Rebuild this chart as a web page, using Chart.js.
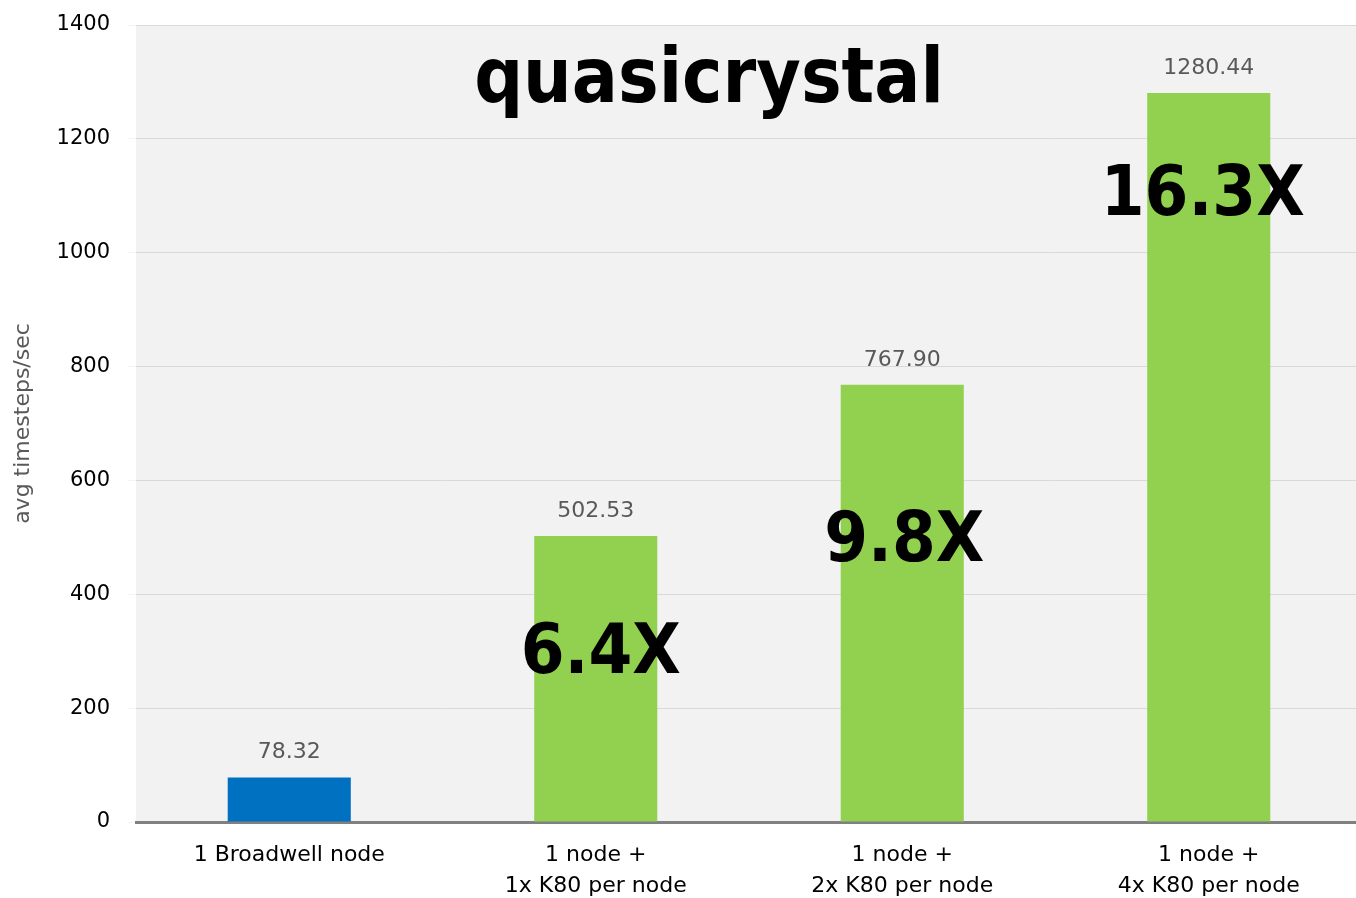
<!DOCTYPE html>
<html>
<head>
<meta charset="utf-8">
<script src="https://cdn.jsdelivr.net/npm/chart.js@4"></script>
<style>
  html, body { margin: 0; padding: 0; background: #fff; overflow: hidden; }
  #wrap { width: 1362px; height: 898px; }
</style>
</head>
<body>
<div id="wrap"><canvas id="perfChart"></canvas></div>
<script>
// Chart data
const categories = [
	'1 Broadwell node',
	['1 node +', '1x K80 per node'],
	['1 node +', '2x K80 per node'],
	['1 node +', '4x K80 per node'],
];
const timesteps = [78.32, 502.53, 767.9, 1280.44];
const barColors = ['#0070c0', '#92d050', '#92d050', '#92d050'];
const speedups = ['', '6.4X', '9.8X', '16.3X'];
const yTicks = [0, 200, 400, 600, 800, 1000, 1200, 1400];

const FONT = '"DejaVu Sans", sans-serif';
const BIG_FONT = '"DejaVu Sans Condensed", "DejaVu Sans", sans-serif';

// Fill the plot area grey, then draw value labels, speedups and title
const decorations = {
	id: 'decorations',
	beforeDraw(chart) {
		const { ctx, chartArea: a } = chart;
		ctx.save();
		ctx.fillStyle = '#f2f2f2';
		ctx.fillRect(a.left, a.top, a.right - a.left, a.bottom - a.top);
		ctx.restore();
	},
	afterDatasetsDraw(chart) {
		const { ctx, scales } = chart;
		const bars = chart.getDatasetMeta(0).data;
		ctx.save();
		ctx.textAlign = 'center';

		// value labels above each bar
		ctx.fillStyle = '#595959';
		ctx.font = '22px ' + FONT;
		ctx.textBaseline = 'bottom';
		bars.forEach((bar, i) => {
			ctx.fillText(timesteps[i].toFixed(2), bar.x, bar.y - 14);
		});

		// speedup labels (drawn a bit off the bar centre like the original slide)
		ctx.fillStyle = '#000';
		ctx.font = 'bold 70px ' + BIG_FONT;
		ctx.textBaseline = 'middle';
		const speedupAt = [0, 293, 491, 1099];
		const nudge = [0, 5, 2, -6];
		bars.forEach((bar, i) => {
			if (!speedups[i]) return;
			ctx.fillText(speedups[i], bar.x + nudge[i], scales.y.getPixelForValue(speedupAt[i]));
		});

		// title inside the plot
		ctx.font = 'bold 76px ' + BIG_FONT;
		ctx.fillText('quasicrystal', 709, scales.y.getPixelForValue(1299));
		ctx.restore();
	},
};

const ctx = document.getElementById('perfChart').getContext('2d');
const chart = new Chart(ctx, {
	type: 'bar',
	data: {
		labels: categories,
		datasets: [{
			data: timesteps,
			backgroundColor: barColors,
			barPercentage: 0.8,
			categoryPercentage: 0.502,
		}],
	},
	options: {
		responsive: true,
		maintainAspectRatio: false,
		animation: false,
		layout: { padding: { top: 25, right: 0, bottom: 0, left: 0 } },
		plugins: {
			legend: { display: false },
			tooltip: { enabled: false },
		},
		scales: {
			x: {
				grid: { display: false },
				border: { display: true, color: '#808080', width: 3 },
				ticks: {
					color: '#000',
					font: { family: FONT, size: 22, lineHeight: 1.4 },
					padding: 10,
					maxRotation: 0,
				},
				afterFit(scale) { scale.height = 76; },
			},
			y: {
				min: 0,
				max: 1400,
				afterBuildTicks(scale) { scale.ticks = yTicks.map(v => ({ value: v })); },
				grid: {
					color: '#d9d9d9',
					lineWidth: 1,
					tickLength: 8,
					tickColor: '#f4f4f4',
				},
				border: { display: false },
				ticks: {
					color: '#000',
					font: { family: FONT, size: 21, lineHeight: 0.5 },
					padding: 18,
					callback: (v) => String(v),
				},
				title: {
					display: true,
					text: 'avg timesteps/sec',
					color: '#595959',
					font: { family: FONT, size: 22 },
					padding: { top: 10, bottom: 0 },
				},
				afterFit(scale) { scale.width = 136; },
			},
		},
	},
	plugins: [decorations],
});
</script>
</body>
</html>
